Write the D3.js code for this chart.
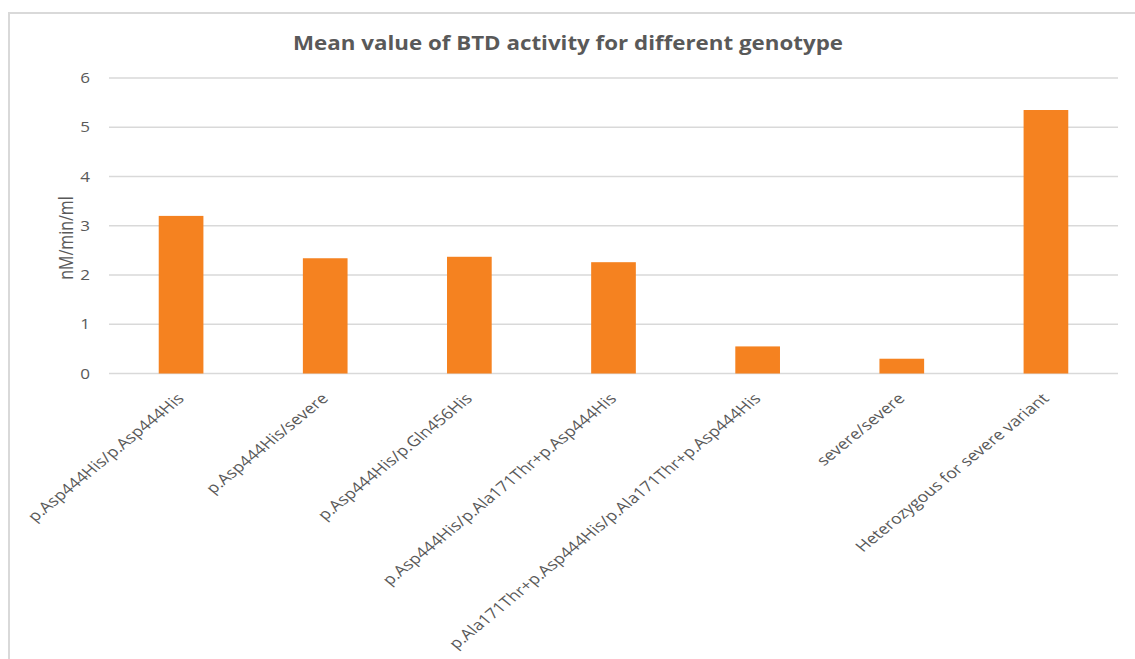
<!DOCTYPE html>
<html>
<head>
<meta charset="utf-8">
<script src="https://cdn.jsdelivr.net/npm/d3@7"></script>
<style>
  body { margin: 0; background: #fff; }
  text { font-family: "Open Sans", sans-serif; fill: #595959; }
</style>
</head>
<body>
<div id="chart"></div>
<script>
const genotypes = [
    "p.Asp444His/p.Asp444His",
    "p.Asp444His/severe",
    "p.Asp444His/p.Gln456His",
    "p.Asp444His/p.Ala171Thr+p.Asp444His",
    "p.Ala171Thr+p.Asp444His/p.Ala171Thr+p.Asp444His",
    "severe/severe",
    "Heterozygous for severe variant"
];
const meanActivity = [3.20, 2.34, 2.37, 2.26, 0.55, 0.30, 5.35];
const yTicks = [0, 1, 2, 3, 4, 5, 6];

const width = 1135, height = 659;
// the source image is stretched sideways, so text gets a wider x scale
const stretchX = 1.22;

const svg = d3.select("#chart").append("svg")
    .attr("width", width)
    .attr("height", height);

// frame of the chart area (only top and left edges show in the crop)
svg.append("path")
    .attr("d", "M9,700 L9,13 L1140,13")
    .attr("fill", "none")
    .attr("stroke", "#d9d9d9")
    .attr("stroke-width", 2);

const plotLeft = 109, plotRight = 1118, plotTop = 78, plotBottom = 373.5;

const x = d3.scaleBand()
    .domain(genotypes)
    .range([plotLeft, plotRight])
    .paddingInner(0.69)
    .paddingOuter(0.345);

const y = d3.scaleLinear()
    .domain([0, 6])
    .range([plotBottom, plotTop]);

// gridlines
svg.append("g")
    .selectAll("line")
    .data(yTicks)
    .join("line")
    .attr("x1", plotLeft)
    .attr("x2", plotRight)
    .attr("y1", d => y(d))
    .attr("y2", d => y(d))
    .attr("stroke", "#d9d9d9")
    .attr("stroke-width", 1.3);

// y tick labels
svg.append("g")
    .selectAll("text")
    .data(yTicks)
    .join("text")
    .attr("transform", d => `translate(90,${y(d) + 5}) scale(${stretchX},1)`)
    .attr("text-anchor", "end")
    .attr("font-size", "14px")
    .text(d => d);

// bars
svg.append("g")
    .selectAll("rect")
    .data(genotypes)
    .join("rect")
    .attr("x", d => x(d))
    .attr("width", x.bandwidth())
    .attr("y", (d, i) => y(meanActivity[i]))
    .attr("height", (d, i) => y(0) - y(meanActivity[i]))
    .attr("fill", "#f58220");

// category labels, rotated
svg.append("g")
    .selectAll("text")
    .data(genotypes)
    .join("text")
    .attr("text-anchor", "end")
    .attr("font-size", "14.6px")
    .attr("transform", d => {
        const cx = x(d) + x.bandwidth() / 2 + 4;
        return `translate(${cx},${plotBottom + 26}) scale(${stretchX},1) rotate(-45)`;
    })
    .text(d => d);

// y axis title
svg.append("text")
    .attr("transform", `translate(73,238) scale(${stretchX},1) rotate(-90)`)
    .attr("text-anchor", "middle")
    .attr("font-size", "16px")
    .text("nM/min/ml");

// chart title
svg.append("text")
    .attr("x", 568)
    .attr("y", 50)
    .attr("text-anchor", "middle")
    .attr("font-size", "19px")
    .attr("font-weight", "bold")
    .attr("textLength", 550)
    .attr("lengthAdjust", "spacingAndGlyphs")
    .text("Mean value of BTD activity for different genotype");
</script>
</body>
</html>
